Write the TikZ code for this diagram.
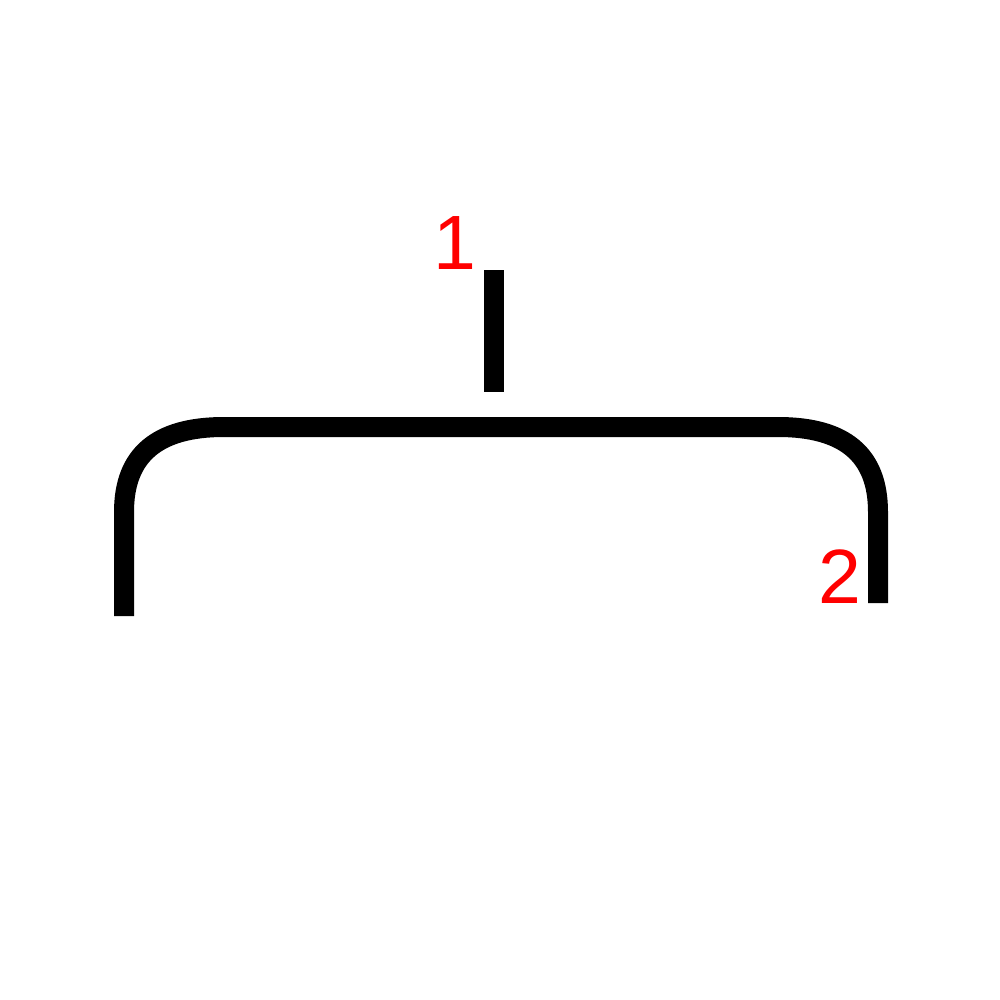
\documentclass[tikz,border=0pt]{standalone}
\usepackage{fontspec}
\setmainfont{Liberation Sans}
\begin{document}
\begin{tikzpicture}[x=1pt,y=-1pt,
  bar/.style={line width=20pt,line cap=butt,black},
  lbl/.style={text=red,font=\fontsize{77}{77}\selectfont,inner sep=0pt,anchor=base}]
\useasboundingbox[fill=white] (0,0) rectangle (1000,1000);
\coordinate (bt) at (494,270);
\coordinate (bb) at (494,392);
\draw[bar] (bt) -- (bb);
\coordinate (lb) at (124,616);
\coordinate (rb) at (878,603);
\draw[bar,line join=round] (lb) -- (124,512) .. controls (124,455) and (157,427) .. (224,427)
  -- (778,427) .. controls (845,427) and (878,455) .. (878,512) -- (rb);
\node[lbl] (one) at (455,269) {1};
\node[lbl] (two) at (840,603) {2};
\end{tikzpicture}
\end{document}
